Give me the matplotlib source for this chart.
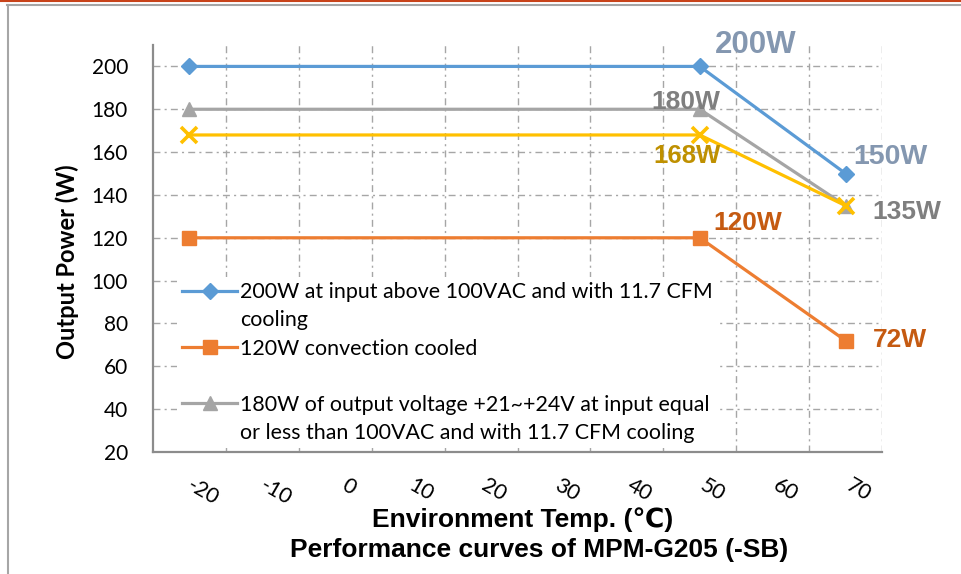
import numpy as np
import matplotlib
matplotlib.use("Agg")
import matplotlib.pyplot as plt
from matplotlib.lines import Line2D
from matplotlib.transforms import ScaledTranslation

# data
temps = [-20, 50, 70]
power_200w = [200, 200, 150]
power_120w = [120, 120, 72]
power_180w = [180, 180, 135]
power_168w = [168, 168, 135]

x_ticks = [-20, -10, 0, 10, 20, 30, 40, 50, 60, 70]
y_ticks = [20, 40, 60, 80, 100, 120, 140, 160, 180, 200]

legend_labels = [
    "200W at input above 100VAC and with 11.7 CFM\ncooling",
    "120W convection cooled",
    "180W of output voltage +21~+24V at input equal\nor less than 100VAC and with 11.7 CFM cooling",
]

plt.rcParams['font.family'] = ['Lato', 'DejaVu Sans']

fig = plt.figure(figsize=(9.61, 5.74), dpi=100)
ax = fig.add_axes([153 / 961, 1 - 452 / 574, 729 / 961, 407 / 574])

l_blue, = ax.plot(temps, power_200w, color='#5B9BD5', lw=2.3, marker='D', ms=8, zorder=4)
l_orange, = ax.plot(temps, power_120w, color='#ED7D31', lw=2.3, marker='s', ms=10, zorder=4)
l_gray, = ax.plot(temps, power_180w, color='#A5A5A5', lw=2.3, marker='^', ms=10, zorder=4)
l_yellow, = ax.plot(temps, power_168w, color='#FFC000', lw=2.3, marker='x', ms=11, mew=2.6, zorder=5)

ax.set_xlim(-25, 75)
ax.set_ylim(20, 210)

# gridlines: every 5 deg vertically, every 20 W horizontally
grid_style = dict(color='#A6A6A6', lw=1, linestyle=(0, (5, 3, 1.5, 3)))
ax.set_xticks(np.arange(-20, 76, 5), minor=True)
ax.set_xticks(x_ticks)
ax.set_xticklabels([str(t) for t in x_ticks])
ax.set_yticks(y_ticks)
ax.grid(which='minor', axis='x', **grid_style)
ax.grid(which='major', axis='y', **grid_style)
ax.set_axisbelow(True)

for s in ['top', 'right']:
    ax.spines[s].set_visible(False)
for s in ['left', 'bottom']:
    ax.spines[s].set_color('#8C8C8C')
    ax.spines[s].set_linewidth(1.6)

ax.tick_params(which='both', length=0)
ax.tick_params(axis='y', pad=18, labelsize=15)
ax.tick_params(axis='x', pad=17, labelsize=15.5)
shift = ScaledTranslation(0.13, 0, fig.dpi_scale_trans)
for lab in ax.get_xticklabels():
    lab.set_rotation(-30)
    lab.set_ha('center')
    lab.set_va('top')
    lab.set_transform(lab.get_transform() + shift)

# value labels next to the break points
label_font = ['Liberation Sans', 'DejaVu Sans']
annots = [
    (temps[1], power_200w[1], 56, 13, '#8497B0', 22.5),
    (temps[2], power_200w[2], 45, 10, '#8497B0', 20.5),
    (temps[1], power_180w[1], -14, 0, '#7F7F7F', 19),
    (temps[1], power_168w[1], -13, -28, '#BF9000', 18.5),
    (temps[2], power_180w[2], 61, -13, '#7F7F7F', 19),
    (temps[1], power_120w[1], 48, 8, '#C55A11', 19),
    (temps[2], power_120w[2], 54, -6, '#C55A11', 19),
]
for x, y, dx, dy, c, fs in annots:
    ax.annotate(f"{y}W", (x, y), xytext=(dx, dy), textcoords='offset pixels',
                ha='center', va='baseline', color=c, fontsize=fs,
                fontweight='bold', family=label_font, zorder=6)

# legend: one row per wrapped line, blank row where the reference has a gap
blank = Line2D([], [], color='none')
handles, labels = [], []
for h, text in zip([l_blue, l_orange, None, l_gray],
                   [legend_labels[0], legend_labels[1], " ", legend_labels[2]]):
    for i, line in enumerate(text.split("\n")):
        handles.append(h if (i == 0 and h is not None) else blank)
        labels.append(line)
leg = ax.legend(handles, labels, loc='upper left', bbox_to_anchor=(0.033, 0.43),
                frameon=True, facecolor='white', edgecolor='none', framealpha=1,
                fancybox=False, borderpad=0.25, borderaxespad=0, handlelength=2.57,
                handletextpad=0.12, labelspacing=0.38, numpoints=1,
                prop={'family': 'Lato', 'size': 15.4})
leg.set_zorder(3)

# axis titles
fig.text(67 / 961, 1 - 262 / 574, "Output Power (W)", rotation=90, ha='center', va='center',
         fontsize=17, fontweight='bold', family=['Lato', 'DejaVu Sans'])
fig.text(523 / 961, 1 - 520 / 574, "Environment Temp. (℃)", ha='center', va='center',
         fontsize=19, fontweight='bold', family=['Liberation Sans', 'DejaVu Sans'])
fig.text(539 / 961, 1 - 550 / 574, "Performance curves of MPM-G205 (-SB)", ha='center', va='center',
         fontsize=19, fontweight='bold', family=['Liberation Sans', 'DejaVu Sans'])

# page frame
fig.add_artist(Line2D([0, 1], [1 - 1 / 574] * 2, color='#C8431A', lw=1.5, transform=fig.transFigure))
fig.add_artist(Line2D([7 / 961, 1], [1 - 5 / 574] * 2, color='#A6A6A6', lw=1.5, transform=fig.transFigure))
fig.add_artist(Line2D([8 / 961] * 2, [1 - 5 / 574, 0], color='#A6A6A6', lw=1.5, transform=fig.transFigure))

fig.savefig("out.png", dpi=100)
